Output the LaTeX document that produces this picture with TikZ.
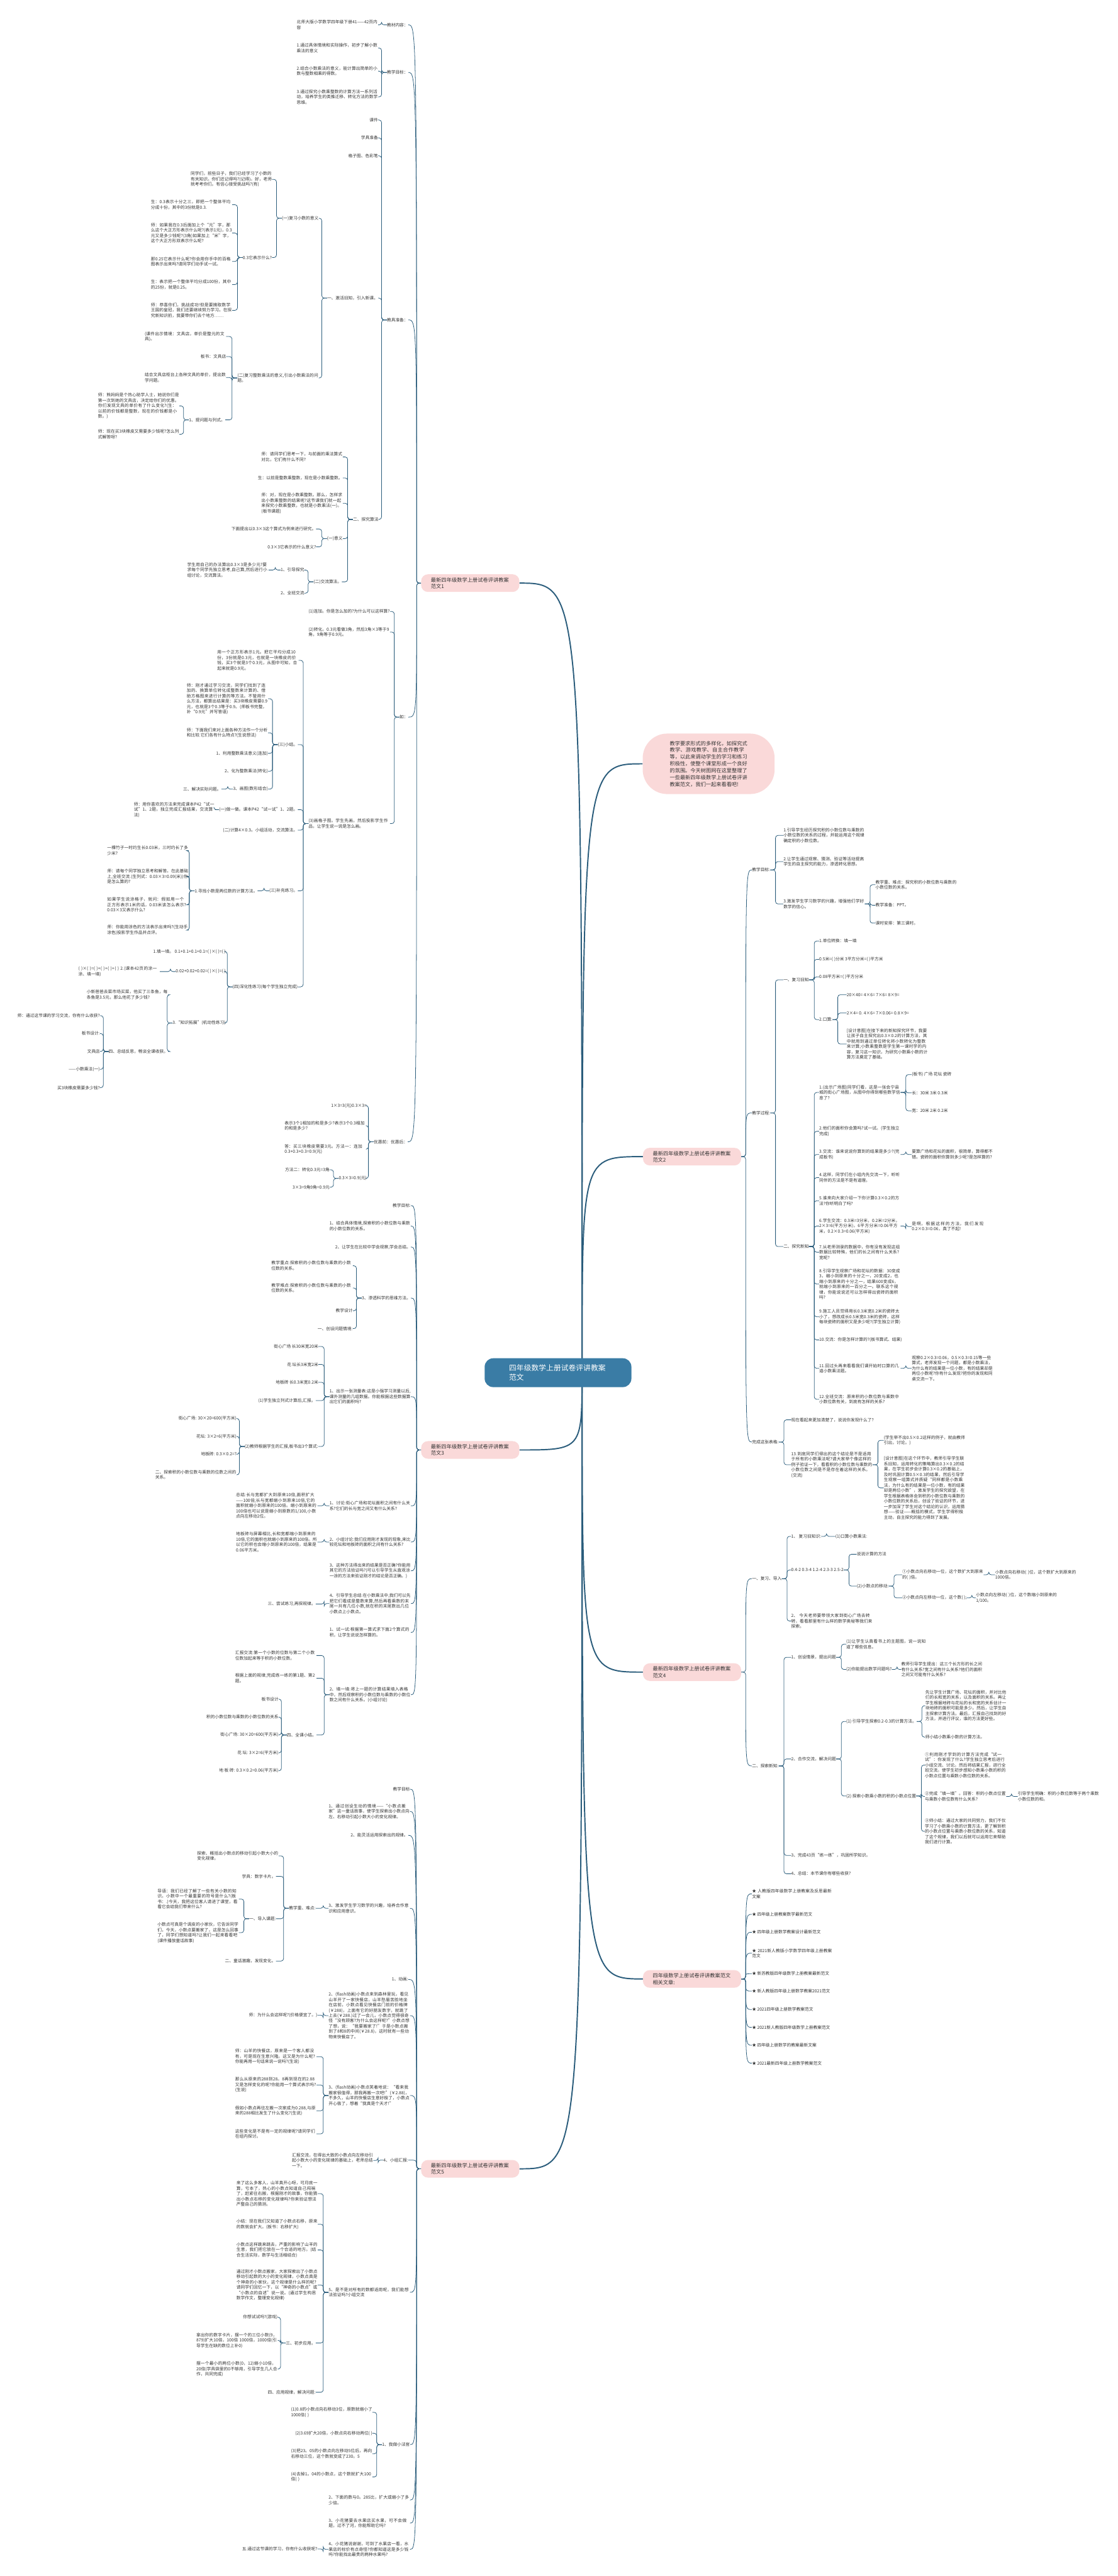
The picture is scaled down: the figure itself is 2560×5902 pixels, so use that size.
\documentclass[tikz,border=0pt]{standalone}
\usepackage{fontspec}
\setmainfont{Noto Sans CJK SC}
\XeTeXlinebreaklocale "zh"
\XeTeXlinebreakskip=0pt plus 1pt
\usetikzlibrary{backgrounds}
\definecolor{linkc}{HTML}{2B5D7C}
\definecolor{rootc}{HTML}{3A7CA5}
\definecolor{pinkc}{HTML}{FAD9D9}
\definecolor{textc}{HTML}{333333}

\begin{document}
\begin{tikzpicture}[x=0.025cm, y=-0.025cm,
  every node/.style={inner sep=0pt, text=textc, font=\fontsize{6.9}{8.7}\selectfont},
  lft/.style={anchor=east},
  rgt/.style={anchor=west},
  wide/.style={text width=4.65cm, align=left},
  link/.style={draw=linkc, line width=0.8pt, rounded corners=4pt},
  mainlink/.style={draw=linkc, line width=2pt},
  branch/.style={fill=pinkc, rounded corners=11pt, text width=4.5cm, align=left,
    inner xsep=0.56cm, inner ysep=0.18cm, font=\fontsize{8.4}{10.7}\selectfont},
  root/.style={fill=rootc, rounded corners=14pt, text width=5.6cm, align=left,
    inner xsep=1.4cm, inner ysep=0.35cm, text=white, font=\fontsize{12}{16}\selectfont}]
\useasboundingbox (0,0) rectangle (2560,5902);

% root and branches {{{
\node[root] (root) at (1278,3145) {四年级数学上册试卷评讲教案范文};
\coordinate (hub) at (1333,3145);
\node[branch] (b1) at (1077,1336) {最新四年级数学上册试卷评讲教案范文1};
\node[branch] (b3) at (1077,3322) {最新四年级数学上册试卷评讲教案范文3};
\node[branch] (b5) at (1077,4969) {最新四年级数学上册试卷评讲教案范文5};
\node[branch] (b2) at (1585,2650) {最新四年级数学上册试卷评讲教案范文2};
\node[branch] (b4) at (1585,3831) {最新四年级数学上册试卷评讲教案范文4};
\node[branch] (b6) at (1585,4534) {四年级数学上册试卷评讲教案范文相关文章:};
\node[fill=pinkc, rounded corners=40pt, text width=4.45cm, align=left, inner xsep=1.55cm,
  inner ysep=0.42cm, font=\fontsize{8.4}{11.1}\selectfont] (desc) at (1623,1750)
  {教学要求形式的多样化，如探究式教学、游戏教学、自主合作教学等，以此来调动学生的学习和练习积极性，使整个课堂形成一个良好的氛围。今天树图网在这里整理了一些最新四年级数学上册试卷评讲教案范文，我们一起来看看吧!};
\foreach \b in {b1,b3,b5} \coordinate (f\b) at ([xshift=-0.25cm]\b.west);
\foreach \b in {b2,b4,b6} \coordinate (f\b) at ([xshift=0.25cm]\b.east);
% }}}

% 范文1 {{{
\node[lft] (k1) at (935,57) {教材内容：};
\node[lft] (k2) at (935,166) {教学目标：};
\node[lft] (k3) at (935,733) {教具准备：};
\node[lft] (k4) at (935,1643) {如：};
\node[lft] (k5) at (934,2616) {优惠前：优惠后：};
\node[lft,wide] (k1a) at (866,57) {北师大版小学数学四年级下册41——42页内容};
\node[lft,wide] (k2a) at (866,110) {1.通过具体情境和实际操作，初步了解小数乘法的意义};
\node[lft,wide] (k2b) at (866,163) {2.结合小数乘法的意义，能计算出简单的小数与整数相乘的得数。};
\node[lft,wide] (k2c) at (866,222) {3.通过探究小数乘整数的计算方法一系列活动，培养学生的类推迁移、转化方法的数学思维。};
\node[lft] (k3a) at (866,275) {课件};
\node[lft] (k3b) at (866,316) {学具准备};
\node[lft] (k3c) at (866,357) {格子图、色彩笔};
\node[lft] (k3d) at (866,683) {一、激活旧知，引入新课。};
\node[lft] (k3e) at (867,1190) {二、探究算法};
\node[lft] (k3d1) at (730,500) {(一)复习小数的意义};
\node[lft,wide] (k3d2) at (730,866) {(二)复习整数乘法的意义,引出小数乘法的问题。};
\node[lft,wide] (k3d1a) at (623,411) {同学们，前些日子，我们已经学习了小数的有关知识。你们还记得吗?(记得)。好，老师就考考你们。有信心接受挑战吗?(有)};
\node[lft] (k3d1b) at (623,590) {0.3它表示什么?};
\node[lft,wide] (q1) at (532,469) {生：0.3表示十分之三，即把一个整体平均分成十份，其中的3份就是0.3.};
\node[lft,wide] (q2) at (532,534) {师：如果我在0.3后面加上个“元”字，那么这个大正方形表示什么呢?(表示1元)，0.3元又是多少钱呢?(3角)如果加上“米”字，这个大正方形双表示什么呢?};
\node[lft,wide] (q3) at (532,599) {那0.25它表示什么呢?你会用你手中的百格图表示出来吗?请同学们动手试一试。};
\node[lft,wide] (q4) at (532,652) {生：表示把一个整体平均分成100份，其中的25份，就是0.25。};
\node[lft,wide] (q5) at (532,711) {师：恭喜你们，挑战成功!但是要摘取数学王国的皇冠，我们还要继续努力学习。在探究新知识前，我要带你们去个地方……};
\node[lft,wide] (r1) at (518,771) {(课件出示情境：文具店，单价是整元的文具)。};
\node[lft] (r2) at (518,817) {板书：文具店};
\node[lft,wide] (r3) at (518,865) {结合文具店柜台上各种文具的单价，提出数学问题。};
\node[lft] (r4) at (516,962) {1、提问题与列式。};
\node[lft,wide] (r4a) at (411,930) {师：熊妈妈是个热心助学人士，她说你们是第一次到她的文具店，决定给你们的优惠。你们发现文具的单价有了什么变化?(生：以前的价钱都是整数，现在的价钱都是小数。)};
\node[lft,wide] (r4b) at (411,995) {师：现在买3块橡皮又需要多少钱呢?怎么列式解答呀?};
\node[lft,wide] (s1) at (785,1047) {师：请同学们思考一下，与前面的乘法算式对比，它们有什么不同?};
\node[lft] (s2) at (785,1095) {生：以前是整数乘整数，现在是小数乘整数。};
\node[lft,wide] (s3) at (785,1153) {师：对，现在是小数乘整数。那么，怎样求出小数乘整数的结果呢?这节课我们就一起来探究小数乘整数，也就是小数乘法(一)。(板书课题)};
\node[lft] (s4) at (785,1234) {(一)意义};
\node[lft] (s5) at (783,1333) {(二)交流算法。};
\node[lft] (s4a) at (724,1212) {下面提出以0.3×3这个算式为例来进行研究。};
\node[lft] (s4b) at (724,1253) {0.3×3它表示的什么意义?};
\node[lft] (s5a) at (697,1306) {1、引导探究};
\node[lft] (s5b) at (697,1359) {2、全班交流};
\node[lft,wide] (s5a1) at (615,1306) {学生用自己的办法算出0.3×3是多少元?要求每个同学先独立思考,自己算,然后进行小组讨论，交流算法。};
\node[lft] (t1) at (893,1401) {(1)连加。你是怎么加的?为什么可以这样算?};
\node[lft,wide] (t2) at (893,1448) {(2)转化。0.3元看做3角，然后3角×3等于9角，9角等于0.9元。};
\node[lft,wide] (t3) at (893,1887) {(3)画格子图。学生先画，然后投影学生作品，让学生说一说是怎么画。};
\node[lft,wide] (u1) at (684,1513) {用一个正方形表示1元。把它平均分成10份，3份就是0.3元，也就是一块橡皮的价钱，买3个就是3个0.3元，从图中可知，合起来就是0.9元。};
\node[lft] (u2) at (682,1706) {(三)小结。};
\node[lft] (u3) at (682,1855) {(一)做一做。课本P42“试一试”1、2题。};
\node[lft] (u4) at (682,1902) {(二)计算4×0.3。小组活动，交流算法。};
\node[lft] (u5) at (682,2041) {(三)补充练习。};
\node[lft] (u6) at (682,2261) {(四)深化性练习(每个学生独立完成)};
\node[lft,wide] (u2a) at (614,1601) {师：刚才通过学习交流，同学们找到了连加的、换算单位转化成整数来计算的、借助方格图来进行计算的等方法。不管用什么方法，都算出结果是：买3块橡皮需要0.9元，也就是3个0.3等于0.9。(师板书完整，补“0.9元”并写答语)};
\node[lft,wide] (u2b) at (614,1679) {师：下面我们来对上面各种方法作一个分析和比较.它们各有什么特点?(生说想法)};
\node[lft] (u2c) at (614,1726) {1、利用整数乘法意义(连加)};
\node[lft] (u2d) at (614,1767) {2、化为整数乘法(转化)};
\node[lft] (u2e) at (614,1808) {3、画图(数形结合)};
\node[lft] (u2e1) at (507,1808) {三、解决实际问题。};
\node[lft,wide] (u3a) at (493,1855) {师：用你喜欢的方法来完成课本P42“试一试”1、2题，独立完成汇报结果，交流算法)};
\node[lft] (u5a) at (590,2041) {1.寻找小数是两位数的计算方法。};
\node[lft,wide] (v1) at (432,1949) {一棵竹子一时约生长0.03米，三时约长了多少米?};
\node[lft,wide] (v2) at (432,2008) {师：请每个同学独立思考和解答。在此基础上,全班交流.(生列式：0.03×3=0.09(米))你是怎么算的?};
\node[lft,wide] (v3) at (432,2073) {如果学生说涂格子，就问：假如用一个正方形表示1米的话，0.03米该怎么表示?0.03×3又表示什么?};
\node[lft,wide] (v4) at (432,2131) {师：你能用涂色的方法表示出来吗?(生动手涂色)投影学生作品并点评。};
\node[lft] (w1) at (517,2180) {1.填一填。 0.1+0.1+0.1+0.1=( )×( )=( )};
\node[lft] (w2) at (517,2226) {0.02+0.02+0.02=( )×( )=( )};
\node[lft] (w3) at (517,2344) {3.“知识拓展”(机动性练习)};
\node[lft,wide] (w2a) at (366,2226) {( )×( )=( )+( )+( )+( ) 2.(课本42页的涂一涂、填一填)};
\node[lft,wide] (w3a) at (385,2279) {小新爸爸去菜市场买菜，他买了三条鱼，每条鱼是3.5元，那么他花了多少钱?};
\node[lft] (w3b) at (385,2409) {四、总结反思，畅谈全课收获。};
\node[lft] (x1) at (229,2327) {师：通过这节课的学习交流，你有什么收获?};
\node[lft] (x2) at (229,2368) {板书设计:};
\node[lft] (x3) at (229,2409) {文具店};
\node[lft] (x4) at (229,2450) {——小数乘法(一)};
\node[lft] (x5) at (229,2492) {买3块橡皮需要多少钱?};
\node[lft] (y1) at (840,2533) {1×3=3(元)0.3×3=};
\node[lft,wide] (y2) at (838,2579) {表示3个1相加的和是多少?表示3个0.3相加的和是多少?};
\node[lft,wide] (y3) at (838,2633) {答：买三块橡皮需要3元。方法一：连加0.3+0.3+0.3=0.9(元)};
\node[lft] (y4) at (840,2700) {0.3×3=0.9(元)};
\node[lft] (y4a) at (755,2680) {方法二：转化0.3元=3角};
\node[lft] (y4b) at (755,2720) {3×3=9角9角=0.9元};
% }}}

% 范文3 {{{
\node[lft] (m1) at (941,2762) {教学目标:};
\node[lft,wide] (m2) at (941,2809) {1、结合具体情境,探索积的小数位数与乘数的小数位数的关系。};
\node[lft] (m3) at (941,2857) {2、让学生在比较中学会观察,学会总结。};
\node[lft] (m4) at (941,2974) {3、渗透科学的思维方法。};
\node[lft,wide] (m5) at (941,3200) {1、出示一张测量表:这是小强学习测量以后,课外测量的几组数据。你能根据这些数据算出它们的面积吗?};
\node[lft,wide] (m6) at (941,3450) {1、讨论:街心广场和花坛面积之间有什么关系?它们的长与宽之间又有什么关系?};
\node[lft,wide] (m7) at (941,3533) {2、小组讨论:我们应用刚才发现的现象,来比较花坛和地板砖的面积之间有什么关系?};
\node[lft,wide] (m8) at (941,3599) {3、这种方法得出来的结果是否正确?你能用其它的方法验证吗?(可以引导学生从直观涂一涂的方法来验证刚才的结论是否正确。)};
\node[lft,wide] (m9) at (941,3674) {4、引导学生总结:在小数乘法中,我们可以先把它们看成是整数来算,然后再看乘数的末尾一共有几位小数,就在积的末尾数出几位小数点上小数点。};
\node[lft,wide] (m10) at (941,3740) {1、试一试:根据第一算式求下面2个算式的积，让学生说说怎样算的。};
\node[lft,wide] (m11) at (941,3883) {2、填一填:将上一题的计算结果填入表格中，然后观察积的小数位数与乘数的小数位数之间有什么关系。(小组讨论)};
\node[lft,wide] (m4a) at (808,2900) {教学重点:探索积的小数位数与乘数的小数位数的关系。};
\node[lft,wide] (m4b) at (808,2951) {教学难点:探索积的小数位数与乘数的小数位数的关系。};
\node[lft] (m4c) at (808,3003) {教学设计};
\node[lft] (m4d) at (808,3044) {一、创设问题情境:};
\node[lft] (m5a) at (729,3085) {街心广场 长30米宽20米};
\node[lft] (m5b) at (729,3126) {花 坛长3米宽2米};
\node[lft] (m5c) at (729,3167) {地板砖 长0.3米宽0.2米};
\node[lft] (m5d) at (723,3209) {(1)学生独立列式计算后,汇报。};
\node[lft] (m5e) at (729,3314) {(2)教师根据学生的汇报,板书出3个算式:};
\node[lft] (n1) at (542,3250) {街心广场: 30×20=600(平方米)};
\node[lft] (n2) at (542,3291) {花坛: 3×2=6(平方米)};
\node[lft] (n3) at (542,3332) {地板砖: 0.3×0.2=?};
\node[lft,wide] (n4) at (542,3379) {二、探索积的小数位数与乘数的位数之间的关系。};
\node[lft,wide] (m6a) at (727,3450) {总结:长与宽都扩大到原来10倍,面积扩大——100倍;长与宽都缩小到原来10倍,它的面积就缩小到原来的100倍。缩小到原来的100倍也可以说是缩小到原数的1/100,小数点向左移动2位。};
\node[lft,wide] (m7a) at (727,3533) {地板砖与屏幕相比,长和宽都缩小到原来的10倍,它的面积也就缩小到原来的100倍。所以它的积也会缩小到原来的100倍，结果是0.06平方米。};
\node[lft] (m9a) at (723,3675) {三、尝试练习,再探规律。};
\node[lft,wide] (o1) at (725,3793) {汇报交流:第一个小数的位数与第二个小数位数加起来等于积的小数位数。};
\node[lft,wide] (o2) at (725,3845) {根据上面的规律,完成练一练的第1题、第2题。};
\node[lft] (o3) at (725,3975) {四、全课小结。};
\node[lft] (o3a) at (638,3893) {板书设计};
\node[lft] (o3b) at (638,3934) {积的小数位数与乘数的小数位数的关系};
\node[lft] (o3c) at (638,3975) {街心广场: 30×20=600(平方米)};
\node[lft] (o3d) at (638,4016) {花 坛: 3×2=6(平方米)};
\node[lft] (o3e) at (638,4057) {地 板 砖: 0.3×0.2=0.06(平方米)};
% }}}

% 范文5 {{{
\node[lft] (p1) at (939,4099) {教学目标};
\node[lft,wide] (p2) at (939,4150) {1、通过创设生动的情境——“小数点搬家”这一童话故事，使学生探索出小数点向左、右移动引起小数大小的变化规律。};
\node[lft] (p3) at (935,4205) {2、能灵活运用探索出的规律。};
\node[lft,wide] (p4) at (939,4372) {3、激发学生学习数学的兴趣，培养合作意识和应用意识。};
\node[lft] (p5) at (935,4535) {1、动画:};
\node[lft,wide] (p6) at (939,4618) {2、(flash动画)小数点来到森林里玩，看见山羊开了一家快餐店，山羊愁眉苦脸地坐在店前，小数点看见快餐店门前的价格牌(￥288)，上面有它的好朋友数字，就跳了上去(￥288.)过了一会儿，小数点觉得很奇怪“没有顾客?为什么会这样呢?”小数点想了想，说：“我要搬家了!”于是小数点搬到了8和8的中间(￥28.8)，这时就有一些动物来快餐店了。};
\node[lft,wide] (p7) at (939,4801) {3、(flash动画)小数点笑着地说：“看来我搬家很值得，那我再搬一次吧!”(￥2.88)，不多久，山羊的快餐店生意好极了，小数点开心极了，想着“我真是个天才!”};
\node[lft] (p8) at (935,4949) {4、小组汇报:};
\node[lft,wide] (p9) at (939,5252) {5、是不是对所有的数都适用呢，我们能想法验证吗?小组交流};
\node[lft] (p10) at (939,5601) {1、我做小法官};
\node[lft,wide] (p11) at (939,5728) {2、下面的数与0。285比，扩大或缩小了多少倍。};
\node[lft,wide] (p12) at (939,5781) {3、小花猪要去水果店买水果，可不会做题，过不了河，你能帮助它吗?};
\node[lft,wide] (p13) at (939,5841) {4、小花猪说谢谢，可到了水果店一看，水果店的标价有点奇怪?你都知道这是多少钱吗?你能找出最贵的两种水果吗?};
\node[lft] (p4a) at (723,4372) {教学重、难点:};
\node[lft,wide] (p4a1) at (638,4252) {探索、概括出小数点的移动引起小数大小的变化规律。};
\node[lft] (p4a2) at (632,4299) {学具：数字卡片。};
\node[lft] (p4a3) at (632,4396) {一、导入课题:};
\node[lft] (p4a4) at (632,4493) {二、童话激趣，发现变化。};
\node[lft,wide] (z1) at (547,4351) {导语：我们已经了解了一些有关小数的知识。小数中一个最重要的符号是什么?(板书：.)今天，我把这位客人请进了课堂，看看它会给我们带来什么?};
\node[lft,wide] (z2) at (547,4428) {小数点可真是个调皮的小家伙，它告诉同学们，今天，小数点要搬家了，这是怎么回事了，同学们想知道吗?让我们一起来看看吧(课件播放童话故事)};
\node[lft] (p6a) at (727,4617) {师：为什么会这样呢?(价格便宜了。)};
\node[lft,wide] (p7a) at (725,4712) {师：山羊的快餐店，原来是一个客人都没有，可是现在生意兴隆。这又是为什么呢?你能再用一句话来说一说吗?(生说)};
\node[lft,wide] (p7b) at (725,4777) {那么从原来的288到28。8再到现在的2.88又是怎样变化的呢?你能用一个算式表示吗?(生说)};
\node[lft,wide] (p7c) at (725,4836) {假如小数点再往左搬一次家成为0.288,与原来的288相比发生了什么变化?(生说)};
\node[lft,wide] (p7d) at (725,4889) {这些变化是不是有一定的规律呢?请同学们在组内探讨。};
\node[lft,wide] (p8a) at (855,4950) {汇报交流，在得出大致的小数点向左移动引起小数大小的变化规律的基础上，老师总结一下。};
\node[lft,wide] (p9a) at (728,5026) {来了这么多客人，山羊真开心呀，可月底一算，亏本了，热心的小数点知道自己闯祸了，赶紧往右搬，根据刚才的故事，你能猜出小数点右移的变化规律吗?你来验证想法严整自己的猜测。};
\node[lft,wide] (p9b) at (728,5096) {小结：现在我们又知道了小数点右移，原来的数就会扩大。(板书：右移扩大)};
\node[lft,wide] (p9c) at (728,5155) {小数点这样跳来跳去，严重的影响了山羊的生意，我们把它放在一个合适的地方。(结合生活实际，数学与生活相结合)};
\node[lft,wide] (p9d) at (728,5235) {通过刚才小数点搬家，大家探索出了小数点移动引起数的大小的变化规律，小数点真是个神奇的小家伙，这个规律是什么样的呢?请同学们回忆一下，以“神奇的小数点”或“小数点的自述”说一说。(通过学生构思数学作文，整理变化规律)};
\node[lft] (p9e) at (723,5368) {三、初步应用。};
\node[lft] (p9f) at (723,5481) {四、应用规律，解决问题:};
\node[lft] (p9e1) at (636,5309) {你想试试吗?(游戏)};
\node[lft,wide] (p9e2) at (636,5362) {拿出你的数字卡片，摆一个的三位小数(9，879)扩大10倍，100倍 1000倍，1000倍(引导学生在缺的数位上补0)};
\node[lft,wide] (p9e3) at (636,5428) {摆一个最小的两位小数(0，12)缩小10倍，20倍(学具袋里的0不够用，引导学生几人合作，共同完成)};
\node[lft,wide] (f1) at (853,5527) {(1)0.8的小数点向右移动3位，原数就缩小了1000倍( )};
\node[lft] (f2) at (853,5575) {(2)3.69扩大20倍，小数点向右移动两位( )};
\node[lft,wide] (f3) at (853,5622) {(3)把23。05的小数点向左移动5位后，再向右移动三位，这个数就变成了230。5};
\node[lft,wide] (f4) at (853,5675) {(4)去掉1。04的小数点，这个数就扩大100倍( )};
\node[lft] (p13a) at (727,5840) {五.通过这节课的学习，你有什么收获呢?};
% }}}

% 范文2 {{{
\node[rgt] (g1) at (1722,1993) {教学目标:};
\node[rgt] (g2) at (1722,2550) {教学过程:};
\node[rgt] (g3) at (1722,3304) {完成这张表格:};
\node[rgt,wide] (g1a) at (1794,1914) {1.引导学生经历探究积的小数位数与乘数的小数位数的关系的过程，并能运用这个规律确定积的小数位数。};
\node[rgt,wide] (g1b) at (1794,1974) {2.让学生通过观察、猜测、验证等活动提高学生的自主探究的能力，渗透转化思想。};
\node[rgt,wide] (g1c) at (1794,2071) {3.激发学生学习数学的兴趣，增强他们学好数学的信心。};
\node[rgt,wide] (g1c1) at (2005,2027) {教学重、难点：探究积的小数位数与乘数的小数位数的关系。};
\node[rgt] (g1c2) at (2005,2074) {教学准备：PPT。};
\node[rgt] (g1c3) at (2005,2115) {课时安排：第三课时。};
\node[rgt] (h1) at (1794,2245) {一、复习旧知};
\node[rgt] (h2) at (1794,2856) {二、探究新知};
\node[rgt] (h1a) at (1876,2156) {1.单位转换：填一填};
\node[rgt] (h1b) at (1876,2198) {0.5米=( )分米 3平方分米=( )平方米};
\node[rgt] (h1c) at (1876,2238) {0.08平方米=( )平方分米};
\node[rgt] (h1d) at (1876,2336) {2.口算:};
\node[rgt] (h1d1) at (1939,2279) {20×40= 4×6= 7×6= 8×9=};
\node[rgt] (h1d2) at (1939,2321) {2×4= 0. 4×6= 7×0.06= 0.8×9=};
\node[rgt,wide] (h1d3) at (1939,2392) {[设计意图]在接下来的新知探究环节，我要让孩子自主探究出0.3×0.2的计算方法，其中就用到通过单位转化将小数转化为整数来计算;小数乘整数是学生第一课时学的内容，复习这一知识，为研究小数乘小数的计算方法奠定了基础。};
\node[rgt,wide] (i1) at (1876,2503) {1.(出示广场图)同学们看，这是一张会宁县城的街心广场图，从图中你得到哪些数学信息了?};
\node[rgt,wide] (i2) at (1876,2592) {2.他们的面积你会算吗?试一试。(学生独立完成)};
\node[rgt,wide] (i3) at (1876,2645) {3.交流：谁来说说你算到的结果是多少?(完成板书)};
\node[rgt,wide] (i4) at (1876,2698) {4.这样，同学们在小组内先交流一下，听听同伴的方法是不是有道理。};
\node[rgt,wide] (i5) at (1876,2751) {5.谁来向大家介绍一下你计算0.3×0.2的方法?你听明白了吗?};
\node[rgt,wide] (i6) at (1876,2809) {6.学生交流：0.3米=3分米，0.2米=2分米，2×3=6(平方分米)，6平方分米=0.06平方米，0.2×0.3=0.06(平方米)};
\node[rgt,wide] (i7) at (1876,2869) {7.从老师测录的数据中，你有没有发现这组数据比较特殊，他们的长之间有什么关系?宽呢?};
\node[rgt,wide] (i8) at (1876,2942) {8.引导学生观察广场和花坛的数据：30变成3，缩小到原来的十分之一，20变成2，也缩小到原来的十分之一，结果600变成6，就缩小到原来的一百分之一。联系这个规律，你能说说还可以怎样得出瓷砖的面积吗?};
\node[rgt,wide] (i9) at (1876,3017) {9.施工人员觉得用长0.3米宽0.2米的瓷砖太小了，想改成长0.5米宽0.3米的瓷砖，这样每块瓷砖的面积又是多少呢?(学生独立计算)};
\node[rgt] (i10) at (1876,3070) {10.交流：你是怎样计算的?(板书算式、结果)};
\node[rgt,wide] (i11) at (1876,3135) {11.回过头再来看看我们课开始时口算的几道小数乘法题。};
\node[rgt,wide] (i12) at (1876,3206) {12.全班交流：原来积的小数位数与乘数中小数位数有关，到底有怎样的关系?};
\node[rgt] (i1a) at (2088,2462) {(板书) 广场 花坛 瓷砖};
\node[rgt] (i1b) at (2088,2504) {长：30米 3米 0.3米};
\node[rgt] (i1c) at (2088,2545) {宽：20米 2米 0.2米};
\node[rgt,wide] (i3a) at (2088,2645) {要算广场和花坛的面积，很简单，算得都不错。瓷砖的面积你算到多少呢?是怎样算的?};
\node[rgt,wide] (i6a) at (2088,2810) {是啊，根据这样的方法，我们发现0.2×0.3=0.06，真了不起!};
\node[rgt,wide] (i11a) at (2088,3135) {观察0.2×0.3=0.06，0.5×0.3=0.15等一些算式，老师发现一个问题，都是小数乘法，为什么有的结果是一位小数，有的结果却是两位小数呢?你有什么发现?把你的发现和同桌交流一下。};
\node[rgt] (j1) at (1812,3253) {现在看起来更加清楚了，说说你发现什么了?};
\node[rgt,wide] (j2) at (1812,3356) {13.到底同学们得出的这个结论是不是适用于所有的小数乘法呢?请大家举个像这样的例子验证一下，看看积的小数位数与乘数的小数位数之间是不是存在着这样的关系。(交流)};
\node[rgt,wide] (j2a) at (2024,3300) {(学生举不出0.5×0.2这样的例子，就由教师引出，讨论。)};
\node[rgt,wide] (j2b) at (2024,3409) {[设计意图]在这个环节中，教师引导学生联系旧知，运用转化的策略算出0.3×0.2的结果，在学生初步会计算0.3×0.2的基础上，及时巩固计算0.5×0.3的结果，然后引导学生观察一组算式并质疑“同样都是小数乘法，为什么有的结果是一位小数，有的结果却是两位小数”，激发学生的探究欲望，在学生根据表格体会到积的小数位数与乘数的小数位数的关系后，创设了验证的环节，进一步加深了学生对这个结论的认识，运用猜想——验证——概括的模式，学生学得积极主动，自主探究的能力得到了发展。};
% }}}

% 范文4 {{{
\node[rgt] (l1) at (1722,3617) {一、复习、导入};
\node[rgt] (l2) at (1722,4046) {二、探索新知:};
\node[rgt] (l1a) at (1812,3520) {1、 复习旧知识:};
\node[rgt] (l1b) at (1812,3597) {0.4-2 0.3-4 1.2-4 2.3-3 2.5-2};
\node[rgt,wide] (l1c) at (1812,3714) {2、 今天老师要带领大家到街心广场去转转，看看那里有什么样的数学奥秘等我们来探索。};
\node[rgt] (l1a1) at (1913,3520) {(1)口算小数乘法:};
\node[rgt] (l1b1) at (1962,3561) {说说计算的方法};
\node[rgt] (l1b2) at (1962,3634) {(2)小数点的移动:};
\node[rgt,wide] (l1b2a) at (2066,3608) {①小数点向右移动一位，这个数扩大到原来的( )倍。};
\node[rgt] (l1b2b) at (2066,3661) {②小数点向左移动一位，这个数( );};
\node[rgt,wide] (l1b2a1) at (2279,3608) {小数点向右移动( )位，这个数扩大到原来的1000倍。};
\node[rgt,wide] (l1b2b1) at (2235,3661) {小数点向左移动( )位，这个数缩小到原来的1/100。};
\node[rgt] (l2a) at (1812,3797) {1、创设情景，提出问题};
\node[rgt] (l2b) at (1812,4030) {2、合作交流，解决问题};
\node[rgt] (l2c) at (1812,4251) {3、完成43页“练一练”，巩固所学知识。};
\node[rgt] (l2d) at (1812,4293) {4、总结：本节课你有哪些收获?};
\node[rgt,wide] (l2a1) at (1938,3767) {(1)让学生认真看书上的主题图，说一说知道了哪些信息。};
\node[rgt] (l2a2) at (1938,3825) {(2)你能提出数学问题吗?};
\node[rgt,wide] (l2a21) at (2064,3825) {教师引导学生提出：这三个长方形的长之间有什么关系?宽之间有什么关系?他们的面积之间又可能有什么关系?};
\node[rgt] (l2b1) at (1938,3944) {(1) 引导学生探索0.2-0.3的计算方法。};
\node[rgt] (l2b2) at (1938,4115) {(2) 探索小数乘小数的积的小数点位置};
\node[rgt,wide] (l2b1a) at (2119,3908) {先让学生计算广场、花坛的面积，并对比他们的长和宽的关系，以及面积的关系。再让学生根据地砖与花坛的长和宽的关系估计一块地砖的面积可能是多少。然后，让学生自主探索计算方法。最后，汇报自己找到的好方法，并进行评议，谁的方法更好些。};
\node[rgt] (l2b1b) at (2119,3980) {师小结小数乘小数的计算方法。};
\node[rgt,wide] (l2b2a) at (2118,4044) {①利用刚才学到的计算方法完成“试一试”：你发现了什么?学生独立思考后进行小组交流、讨论。然后将结果汇报，进行全班交流。使学生初步感知小数乘小数的积的小数点位置与乘数小数位数的关系。};
\node[rgt,wide] (l2b2b) at (2118,4116) {②完成“填一填”。回答：积的小数点位置与乘数小数位数有什么关系?};
\node[rgt,wide] (l2b2c) at (2118,4196) {③师小结：通过大家的共同努力，我们不仅学习了小数乘小数的计算方法，更了解到积的小数点位置与乘数小数位数的关系，知道了这个规律，我们以后就可以运用它来帮助我们进行计算。};
\node[rgt,wide] (l2b2b1) at (2331,4116) {引导学生明确：积的小数位数等于两个乘数小数位数的和。};
% }}}

% related {{{
\node[rgt,wide] (a1) at (1722,4339) {★ 人教版四年级数学上册教案及反思最新文案};
\node[rgt] (a2) at (1722,4386) {★ 四年级上册教案数学最新范文};
\node[rgt] (a3) at (1722,4427) {★ 四年级上册数学教案设计最新范文};
\node[rgt,wide] (a4) at (1722,4475) {★ 2021新人教版小学数学四年级上册教案范文};
\node[rgt] (a5) at (1722,4522) {★ 新苏教版四年级数学上册教案最新范文};
\node[rgt] (a6) at (1722,4562) {★ 新人教版四年级上册数学教案2021范文};
\node[rgt] (a7) at (1722,4604) {★ 2021四年级上册数学教案范文};
\node[rgt] (a8) at (1722,4645) {★ 2021新人教版四年级数学上册教案范文};
\node[rgt] (a9) at (1722,4686) {★ 四年级上册数学的教案最新文案};
\node[rgt] (a10) at (1722,4727) {★ 2021最新四年级上册数学教案范文};
% }}}

\begin{scope}[on background layer]
\fill[white] (0,0) rectangle (2560,5902);
% main curves {{{
\foreach \b in {b1,b3,b5}
  \draw[mainlink] (hub) .. controls (hub |- \b.east) .. (\b.east);
\foreach \b in {desc,b2,b4,b6}
  \draw[mainlink] (hub) .. controls (hub |- \b.west) .. (\b.west);
% }}}
% branch fans {{{
\foreach \c in {k1,k2,k3,k4,k5}
  \draw[link] (b1.west) -- (fb1) .. controls (fb1 |- \c.east) .. (\c.east);
\foreach \c in {m1,m2,m3,m4,m5,m6,m7,m8,m9,m10,m11}
  \draw[link] (b3.west) -- (fb3) .. controls (fb3 |- \c.east) .. (\c.east);
\foreach \c in {p1,p2,p3,p4,p5,p6,p7,p8,p9,p10,p11,p12,p13}
  \draw[link] (b5.west) -- (fb5) .. controls (fb5 |- \c.east) .. (\c.east);
\foreach \c in {g1,g2,g3}
  \draw[link] (b2.east) -- (fb2) .. controls (fb2 |- \c.west) .. (\c.west);
\foreach \c in {l1,l2}
  \draw[link] (b4.east) -- (fb4) .. controls (fb4 |- \c.west) .. (\c.west);
\foreach \c in {a1,a2,a3,a4,a5,a6,a7,a8,a9,a10}
  \draw[link] (b6.east) -- (fb6) .. controls (fb6 |- \c.west) .. (\c.west);
% }}}
% left brackets {{{
\foreach \p/\c in {k1/k1a,k2/k2a,k2/k2b,k2/k2c,k3/k3a,k3/k3b,k3/k3c,k3/k3d,k3/k3e,
  k3d/k3d1,k3d/k3d2,k3d1/k3d1a,k3d1/k3d1b,k3d1b/q1,k3d1b/q2,k3d1b/q3,k3d1b/q4,k3d1b/q5,
  k3d2/r1,k3d2/r2,k3d2/r3,k3d2/r4,r4/r4a,r4/r4b,k3e/s1,k3e/s2,k3e/s3,k3e/s4,k3e/s5,
  s4/s4a,s4/s4b,s5/s5a,s5/s5b,s5a/s5a1,k4/t1,k4/t2,k4/t3,t3/u1,t3/u2,t3/u3,t3/u4,t3/u5,t3/u6,
  u2/u2a,u2/u2b,u2/u2c,u2/u2d,u2/u2e,u2e/u2e1,u3/u3a,u5/u5a,u5a/v1,u5a/v2,u5a/v3,u5a/v4,
  u6/w1,u6/w2,u6/w3,w2/w2a,w3/w3a,w3/w3b,w3b/x1,w3b/x2,w3b/x3,w3b/x4,w3b/x5,
  k5/y1,k5/y2,k5/y3,k5/y4,y4/y4a,y4/y4b,
  m4/m4a,m4/m4b,m4/m4c,m4/m4d,m5/m5a,m5/m5b,m5/m5c,m5/m5d,m5/m5e,m5e/n1,m5e/n2,m5e/n3,m5e/n4,
  m6/m6a,m7/m7a,m9/m9a,m11/o1,m11/o2,m11/o3,o3/o3a,o3/o3b,o3/o3c,o3/o3d,o3/o3e,
  p4/p4a,p4a/p4a1,p4a/p4a2,p4a/p4a3,p4a/p4a4,p4a3/z1,p4a3/z2,p6/p6a,p7/p7a,p7/p7b,p7/p7c,p7/p7d,
  p8/p8a,p9/p9a,p9/p9b,p9/p9c,p9/p9d,p9/p9e,p9/p9f,p9e/p9e1,p9e/p9e2,p9e/p9e3,
  p10/f1,p10/f2,p10/f3,p10/f4,p13/p13a}
  \draw[link] (\p.west) -- ++(-12,0) |- (\c.east);
% }}}
% right brackets {{{
\foreach \p/\c in {g1/g1a,g1/g1b,g1/g1c,g1c/g1c1,g1c/g1c2,g1c/g1c3,g2/h1,g2/h2,
  h1/h1a,h1/h1b,h1/h1c,h1/h1d,h1d/h1d1,h1d/h1d2,h1d/h1d3,
  h2/i1,h2/i2,h2/i3,h2/i4,h2/i5,h2/i6,h2/i7,h2/i8,h2/i9,h2/i10,h2/i11,h2/i12,
  i1/i1a,i1/i1b,i1/i1c,i3/i3a,i6/i6a,i11/i11a,g3/j1,g3/j2,j2/j2a,j2/j2b,
  l1/l1a,l1/l1b,l1/l1c,l1a/l1a1,l1b/l1b1,l1b/l1b2,l1b2/l1b2a,l1b2/l1b2b,
  l1b2a/l1b2a1,l1b2b/l1b2b1,l2/l2a,l2/l2b,l2/l2c,l2/l2d,l2a/l2a1,l2a/l2a2,l2a2/l2a21,
  l2b/l2b1,l2b/l2b2,l2b1/l2b1a,l2b1/l2b1b,l2b2/l2b2a,l2b2/l2b2b,l2b2/l2b2c,l2b2b/l2b2b1}
  \draw[link] (\p.east) -- ++(12,0) |- (\c.west);
% }}}
\end{scope}
\end{tikzpicture}
\end{document}
